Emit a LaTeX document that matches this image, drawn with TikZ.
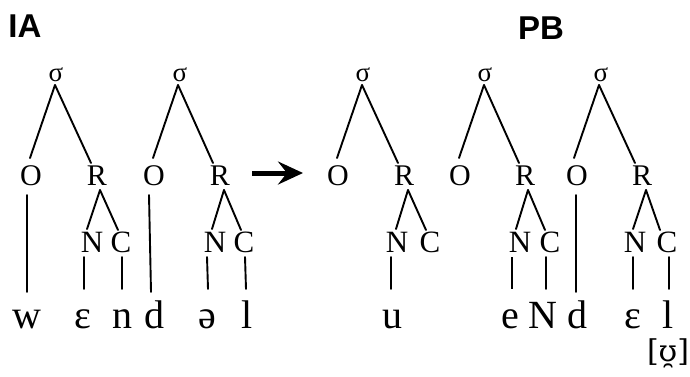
\documentclass[tikz,border=0pt]{standalone}
\usepackage{fontspec}
\setmainfont{Liberation Serif}
\newfontfamily\lsans{Liberation Sans}
\newfontfamily\dvserif{DejaVu Serif}
\usetikzlibrary{arrows.meta}
\begin{document}
\begin{tikzpicture}[x=1pt,y=-1pt,
 every node/.style={inner sep=0pt, anchor=base},
 sig/.style={font=\fontsize{27}{30}\selectfont},
 cons/.style={font=\fontsize{30}{34}\selectfont},
 sub/.style={font=\fontsize{31}{35}\selectfont},
 seg/.style={font=\fontsize{40}{44}\selectfont},
 lbl/.style={font=\lsans\bfseries\fontsize{33}{36}\selectfont},
 br/.style={line width=1.9pt, line cap=round},
 thickbr/.style={line width=2.8pt}]
\useasboundingbox (0,0) rectangle (690,376);

\node[lbl] (IA) at (25,37) {IA};
\node[lbl] (PB) at (541,39) {PB};

% ---------- tree 1 ----------
\node[sig] (s1) at (56,81) {σ};
\node[cons] (O1) at (31,185) {O};
\node[cons] (R1) at (97,185) {R};
\node[sub] (N1) at (92,252) {N};
\node[sub] (C1) at (121,252) {C};
\node[seg] (w1) at (27,328) {w};
\node[seg] (e1) at (83,328) {ɛ};
\node[seg] (n1) at (122,328) {n};
\draw[br] ([shift={(-1,4)}]s1.base) -- ([shift={(-1,-27)}]O1.base);
\draw[br] ([shift={(-1,4)}]s1.base) -- ([shift={(-6,-22)}]R1.base);
\draw[br] ([shift={(3,5)}]R1.base) -- ([shift={(-5,-23)}]N1.base);
\draw[br] ([shift={(3,5)}]R1.base) -- ([shift={(-3,-22)}]C1.base);
\draw[br] ([shift={(-4,10)}]O1.base) -- ([shift={(0,-36)}]w1.base);
\draw[br] ([shift={(-8,5)}]N1.base) -- ([shift={(1,-39)}]e1.base);
\draw[br] ([shift={(1,5)}]C1.base) -- ([shift={(0,-39)}]n1.base);

% ---------- tree 2 ----------
\node[sig] (s2) at (180,81) {σ};
\node[cons] (O2) at (154,185) {O};
\node[cons] (R2) at (220,185) {R};
\node[sub] (N2) at (215,252) {N};
\node[sub] (C2) at (244,252) {C};
\node[seg] (d1) at (154,328) {d};
\node[seg] (a1s) at (207,328) {ə};
\node[seg] (l1) at (247,328) {l};
\draw[br] ([shift={(-2,4)}]s2.base) -- ([shift={(-1,-27)}]O2.base);
\draw[br] ([shift={(-2,4)}]s2.base) -- ([shift={(-7,-22)}]R2.base);
\draw[br] ([shift={(4,5)}]R2.base) -- ([shift={(-3,-23)}]N2.base);
\draw[br] ([shift={(4,5)}]R2.base) -- ([shift={(-3,-22)}]C2.base);
\draw[br] ([shift={(-5,10)}]O2.base) -- ([shift={(-3,-36)}]d1.base);
\draw[br] ([shift={(-8,5)}]N2.base) -- ([shift={(1,-39)}]a1s.base);
\draw[br] ([shift={(1,5)}]C2.base) -- ([shift={(-1,-39)}]l1.base);

% ---------- arrow ----------
\coordinate (a1) at (252,173);
\coordinate (a2) at (303,173);
\draw[line width=5pt, -{Stealth[length=25pt,width=23pt,inset=9pt]}] (a1) -- (a2);

% ---------- tree 3 ----------
\node[sig] (s3) at (363,81) {σ};
\node[cons] (O3) at (338,185) {O};
\node[cons] (R3) at (404,185) {R};
\node[sub] (N3) at (397,252) {N};
\node[sub] (C3) at (430,252) {C};
\node[seg] (u1) at (392,328) {u};
\draw[br] ([shift={(-1,4)}]s3.base) -- ([shift={(-1,-27)}]O3.base);
\draw[br] ([shift={(-1,4)}]s3.base) -- ([shift={(-6,-22)}]R3.base);
\draw[br] ([shift={(4,5)}]R3.base) -- ([shift={(-1,-23)}]N3.base);
\draw[br] ([shift={(4,5)}]R3.base) -- ([shift={(-4,-22)}]C3.base);
\draw[br] ([shift={(-6,5)}]N3.base) -- ([shift={(-1,-39)}]u1.base);

% ---------- tree 4 ----------
\node[sig] (s4) at (485,81) {σ};
\node[cons] (O4) at (460,185) {O};
\node[cons] (R4) at (525,185) {R};
\node[sub] (N4) at (520,252) {N};
\node[sub] (C4) at (550,252) {C};
\node[seg] (e2) at (510,328) {e};
\node[seg] (ng) at (543,328) {N};
\draw[br] ([shift={(-1,4)}]s4.base) -- ([shift={(-1,-27)}]O4.base);
\draw[br] ([shift={(-1,4)}]s4.base) -- ([shift={(-6,-22)}]R4.base);
\draw[br] ([shift={(3,5)}]R4.base) -- ([shift={(-4,-23)}]N4.base);
\draw[br] ([shift={(3,5)}]R4.base) -- ([shift={(-5,-22)}]C4.base);
\draw[thickbr] ([shift={(-8,5)}]N4.base) -- ([shift={(2,-39)}]e2.base);
\draw[br] ([shift={(-4,5)}]C4.base) -- ([shift={(3,-39)}]ng.base);

% ---------- tree 5 ----------
\node[sig] (s5) at (601,81) {σ};
\node[cons] (O5) at (577,185) {O};
\node[cons] (R5) at (642,185) {R};
\node[sub] (N5) at (635,252) {N};
\node[sub] (C5) at (667,252) {C};
\node[seg] (d2) at (577,328) {d};
\node[seg] (e3) at (633,328) {ɛ};
\node[seg] (l2) at (668,328) {l};
\node[font=\dvserif\fontsize{30}{34}\selectfont] (ph) at (668,361) {[ʊ̯]};
\draw[br] ([shift={(-2,4)}]s5.base) -- ([shift={(-3,-27)}]O5.base);
\draw[br] ([shift={(-2,4)}]s5.base) -- ([shift={(-7,-22)}]R5.base);
\draw[br] ([shift={(4,5)}]R5.base) -- ([shift={(-2,-23)}]N5.base);
\draw[br] ([shift={(4,5)}]R5.base) -- ([shift={(-7,-22)}]C5.base);
\draw[br] ([shift={(-1,10)}]O5.base) -- ([shift={(-1,-36)}]d2.base);
\draw[br] ([shift={(-2,5)}]N5.base) -- ([shift={(0,-39)}]e3.base);
\draw[br] ([shift={(2,5)}]C5.base) -- ([shift={(1,-39)}]l2.base);
\end{tikzpicture}
\end{document}
